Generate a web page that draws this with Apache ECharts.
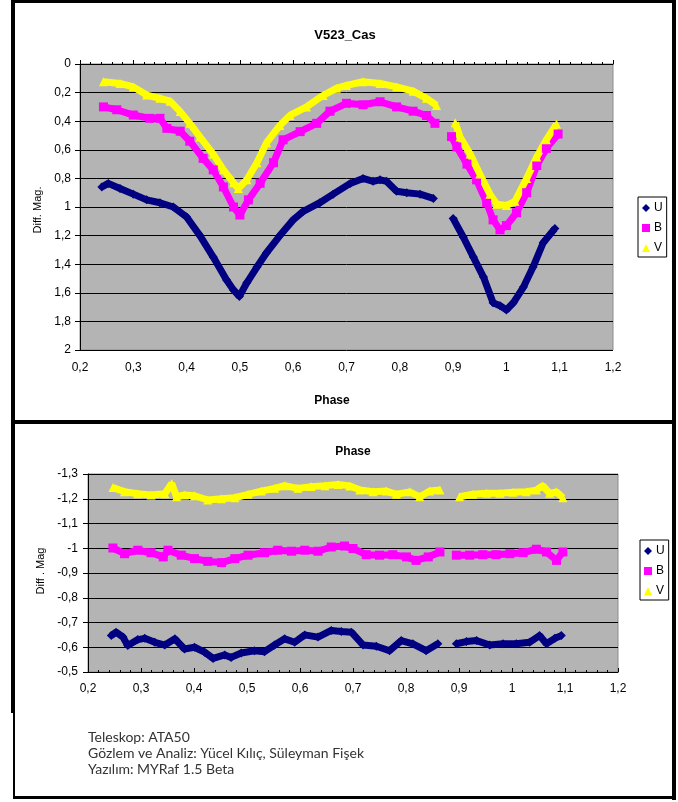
<!DOCTYPE html>
<html>
<head>
<meta charset="utf-8">
<script src="https://cdn.jsdelivr.net/npm/echarts@6/dist/echarts.min.js"></script>
<style>
html,body{margin:0;padding:0;background:#fff;}
#chart{width:678px;height:802px;}
</style>
</head>
<body>
<div id="chart"></div>
<script>
// ---- Data (phase, differential magnitude); null marks the observing gap ----
const seriesNames = ['U', 'B', 'V'];

const topU = [[0.241,0.86],[0.253,0.835],[0.275,0.87],[0.30,0.91],[0.325,0.95],[0.35,0.97],[0.375,1.0],[0.40,1.07],[0.425,1.2],[0.45,1.35],[0.475,1.51],[0.488,1.58],[0.499,1.625],[0.513,1.53],[0.532,1.42],[0.55,1.32],[0.575,1.2],[0.60,1.09],[0.619,1.03],[0.65,0.97],[0.675,0.91],[0.707,0.835],[0.731,0.80],[0.75,0.82],[0.763,0.81],[0.775,0.82],[0.794,0.89],[0.813,0.90],[0.838,0.91],[0.863,0.94],
  null,
  [0.90,1.08],[0.919,1.21],[0.938,1.35],[0.957,1.49],[0.975,1.67],[0.988,1.69],[1.0,1.72],[1.013,1.67],[1.032,1.56],[1.05,1.42],[1.069,1.25],[1.091,1.15]];

const topB = [[0.244,0.30],[0.269,0.32],[0.30,0.357],[0.331,0.38],[0.35,0.38],[0.363,0.45],[0.388,0.47],[0.406,0.54],[0.431,0.66],[0.45,0.74],[0.469,0.86],[0.488,1.0],[0.50,1.056],[0.516,0.95],[0.538,0.834],[0.563,0.69],[0.581,0.53],[0.613,0.473],[0.644,0.415],[0.669,0.33],[0.70,0.275],[0.731,0.285],[0.763,0.264],[0.794,0.30],[0.825,0.33],[0.85,0.36],[0.866,0.415],
  null,
  [0.897,0.508],[0.907,0.58],[0.926,0.70],[0.944,0.81],[0.963,0.97],[0.975,1.09],[0.988,1.16],[1.0,1.13],[1.019,1.04],[1.038,0.90],[1.057,0.71],[1.075,0.59],[1.097,0.49]];

const topV = [[0.244,0.124],[0.275,0.136],[0.30,0.16],[0.325,0.217],[0.35,0.24],[0.369,0.26],[0.388,0.333],[0.406,0.415],[0.425,0.51],[0.45,0.63],[0.469,0.74],[0.488,0.83],[0.497,0.87],[0.513,0.81],[0.532,0.69],[0.55,0.55],[0.575,0.43],[0.594,0.36],[0.625,0.30],[0.656,0.22],[0.681,0.17],[0.70,0.15],[0.731,0.124],[0.763,0.136],[0.794,0.16],[0.825,0.19],[0.85,0.24],[0.869,0.29],
  null,
  [0.904,0.41],[0.913,0.51],[0.932,0.63],[0.95,0.77],[0.969,0.91],[0.982,0.98],[1.0,0.99],[1.016,0.96],[1.038,0.80],[1.057,0.65],[1.075,0.53],[1.094,0.42]];

const botU = [[0.244,-0.647],[0.253,-0.661],[0.266,-0.641],[0.275,-0.607],[0.294,-0.631],[0.307,-0.636],[0.326,-0.62],[0.345,-0.609],[0.364,-0.634],[0.382,-0.593],[0.401,-0.60],[0.42,-0.58],[0.436,-0.555],[0.458,-0.569],[0.47,-0.559],[0.489,-0.577],[0.514,-0.586],[0.533,-0.582],[0.552,-0.609],[0.571,-0.634],[0.59,-0.62],[0.609,-0.65],[0.634,-0.641],[0.659,-0.668],[0.678,-0.664],[0.697,-0.661],[0.719,-0.609],[0.744,-0.604],[0.769,-0.586],[0.791,-0.627],[0.813,-0.614],[0.838,-0.586],[0.86,-0.614],
  null,
  [0.895,-0.614],[0.914,-0.623],[0.933,-0.627],[0.958,-0.609],[0.983,-0.614],[1.008,-0.614],[1.033,-0.62],[1.052,-0.647],[1.065,-0.614],[1.081,-0.636],[1.093,-0.647]];

const botB = [[0.247,-1.001],[0.269,-0.978],[0.294,-0.992],[0.319,-0.982],[0.342,-0.965],[0.351,-0.992],[0.376,-0.972],[0.401,-0.958],[0.426,-0.947],[0.452,-0.942],[0.477,-0.958],[0.502,-0.972],[0.533,-0.982],[0.558,-0.992],[0.584,-0.988],[0.609,-0.992],[0.634,-0.988],[0.659,-1.005],[0.684,-1.009],[0.70,-0.999],[0.725,-0.974],[0.75,-0.972],[0.775,-0.974],[0.801,-0.965],[0.819,-0.951],[0.842,-0.965],[0.864,-0.985],
  null,
  [0.895,-0.972],[0.92,-0.972],[0.945,-0.974],[0.97,-0.974],[0.996,-0.978],[1.021,-0.982],[1.046,-0.996],[1.065,-0.985],[1.084,-0.951],[1.096,-0.985]];

const botV = [[0.247,-1.245],[0.269,-1.228],[0.294,-1.22],[0.319,-1.215],[0.345,-1.22],[0.358,-1.262],[0.367,-1.208],[0.382,-1.215],[0.401,-1.212],[0.426,-1.195],[0.452,-1.20],[0.477,-1.204],[0.502,-1.218],[0.527,-1.231],[0.552,-1.242],[0.571,-1.253],[0.596,-1.242],[0.621,-1.249],[0.647,-1.253],[0.672,-1.258],[0.694,-1.252],[0.713,-1.235],[0.738,-1.228],[0.763,-1.231],[0.782,-1.218],[0.807,-1.228],[0.826,-1.208],[0.845,-1.231],[0.864,-1.235],
  null,
  [0.901,-1.208],[0.926,-1.218],[0.952,-1.222],[0.977,-1.222],[1.002,-1.226],[1.027,-1.228],[1.046,-1.235],[1.058,-1.253],[1.071,-1.222],[1.084,-1.228],[1.096,-1.204]];

const xTicks = [0.2, 1.2, 0.1];          // min, max, interval (phase)
const topYTicks = [0, 2, 0.2];           // min, max, interval
const botYTicks = [-1.3, -0.5, 0.1];

// ---- Styling ----
const styles = {
  U: {color: '#000080', symbol: 'diamond'},
  B: {color: '#FF00FF', symbol: 'rect'},
  V: {color: '#FFFF00', symbol: 'triangle'}
};
const FONT = 'Liberation Sans, Arial, sans-serif';

function fmt(v) {
  return String(+(+v).toFixed(1)).replace('.', ',');
}
function splitSegs(arr) {
  const out = [[]];
  arr.forEach(p => { if (p === null) out.push([]); else out[out.length - 1].push(p); });
  return out.filter(s => s.length);
}

const chart = echarts.init(document.getElementById('chart'), null, {renderer: 'canvas'});

function xAxisCfg(gridIndex, margin) {
  return {
    type: 'value', gridIndex, min: xTicks[0], max: xTicks[1], interval: xTicks[2],
    axisLine: {show: true, lineStyle: {color: '#000', width: 1}},
    axisTick: {show: true, inside: true, length: 4, lineStyle: {color: '#000'}},
    minorTick: {show: true, splitNumber: 5, length: 2, lineStyle: {color: '#000'}},
    axisLabel: {formatter: fmt, color: '#000', fontSize: 12, fontFamily: FONT, margin: margin},
    splitLine: {show: false}
  };
}
function yAxisCfg(gridIndex, t, margin) {
  return {
    type: 'value', gridIndex, min: t[0], max: t[1], interval: t[2], inverse: true,
    axisLine: {show: true, lineStyle: {color: '#000', width: 1}},
    axisTick: {show: true, inside: false, length: 5, lineStyle: {color: '#000'}},
    axisLabel: {formatter: fmt, color: '#000', fontSize: 12, fontFamily: FONT, margin: margin},
    splitLine: {show: true, lineStyle: {color: '#000', width: 1}}
  };
}

const series = [];
[[topU, topB, topV, 0], [botU, botB, botV, 1]].forEach(([u, b, v, gi]) => {
  [['U', u], ['B', b], ['V', v]].forEach(([name, arr]) => {
    splitSegs(arr).forEach(seg => {
      series.push({
        name, type: 'line', xAxisIndex: gi, yAxisIndex: gi,
        data: seg,
        symbol: styles[name].symbol, symbolSize: 9,
        showSymbol: true,
        lineStyle: {color: styles[name].color, width: 7},
        itemStyle: {color: styles[name].color},
        emphasis: {disabled: true},
        silent: true
      });
    });
  });
});

function legendCfg(left, top) {
  return {
    left, top, orient: 'vertical',
    data: [{name: 'U', icon: 'diamond'}, {name: 'B', icon: 'rect'}, {name: 'V', icon: 'triangle'}],
    itemWidth: 8, itemHeight: 8, itemGap: 8,
    padding: [5, 4, 3, 4],
    borderColor: '#000', borderWidth: 1, backgroundColor: '#fff',
    textStyle: {color: '#000', fontSize: 12, fontFamily: FONT, padding: [0, 0, 0, -1]},
    selectedMode: false
  };
}

function txt(text, x, y, opts) {
  return Object.assign({
    type: 'text', x, y, silent: true,
    style: Object.assign({text, fill: '#000', font: '12px ' + FONT, align: 'center', verticalAlign: 'middle'}, (opts && opts.style) || {})
  }, opts && opts.rotation !== undefined ? {rotation: opts.rotation} : {});
}

chart.setOption({
  animation: false,
  backgroundColor: '#fff',
  grid: [
    {left: 80, top: 64, width: 533, height: 286, show: true, backgroundColor: '#B4B4B4', borderColor: '#8c8c8c', borderWidth: 1},
    {left: 88, top: 474, width: 530, height: 198, show: true, backgroundColor: '#B4B4B4', borderColor: '#8c8c8c', borderWidth: 1}
  ],
  xAxis: [xAxisCfg(0, 12), xAxisCfg(1, 11)],
  yAxis: [yAxisCfg(0, topYTicks, 9), yAxisCfg(1, botYTicks, 10)],
  legend: [legendCfg(638, 197), legendCfg(640, 540)],
  series,
  graphic: [
    // frame
    {type: 'rect', shape: {x: 11, y: 0, width: 665, height: 3}, style: {fill: '#000'}, silent: true},
    {type: 'rect', shape: {x: 11, y: 0, width: 4, height: 713}, style: {fill: '#000'}, silent: true},
    {type: 'rect', shape: {x: 13, y: 713, width: 2, height: 86}, style: {fill: '#000'}, silent: true},
    {type: 'rect', shape: {x: 672, y: 0, width: 4, height: 800}, style: {fill: '#000'}, silent: true},
    {type: 'rect', shape: {x: 11, y: 420, width: 665, height: 4}, style: {fill: '#000'}, silent: true},
    {type: 'rect', shape: {x: 13, y: 796, width: 663, height: 3}, style: {fill: '#000'}, silent: true},
    // titles
    txt('V523_Cas', 345, 35, {style: {font: 'bold 13px ' + FONT}}),
    txt('Phase', 332, 401, {style: {font: 'bold 12px ' + FONT}}),
    txt('Diff. Mag.', 38, 210, {rotation: Math.PI / 2, style: {font: '11px ' + FONT}}),
    txt('Phase', 353, 452, {style: {font: 'bold 12px ' + FONT}}),
    txt('Diff . Mag', 41, 571, {rotation: Math.PI / 2, style: {font: '11px ' + FONT}}),
    // footer
    txt('Teleskop: ATA50', 88, 737, {style: {font: '14px Lato, sans-serif', align: 'left', fill: '#333'}}),
    txt('Gözlem ve Analiz: Yücel Kılıç, Süleyman Fişek', 88, 753, {style: {font: '14px Lato, sans-serif', align: 'left', fill: '#333'}}),
    txt('Yazılım: MYRaf 1.5 Beta', 88, 769, {style: {font: '14px Lato, sans-serif', align: 'left', fill: '#333'}})
  ]
});
</script>
</body>
</html>
